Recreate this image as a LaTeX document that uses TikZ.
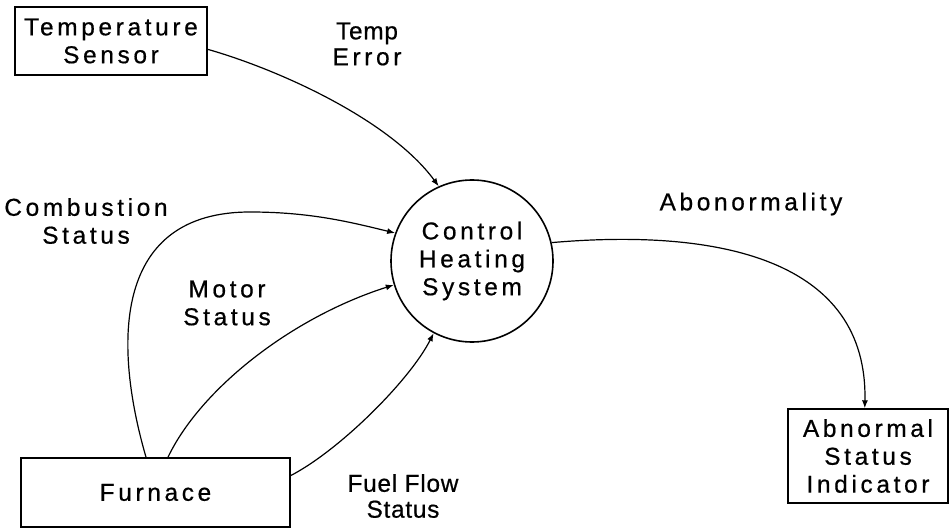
\documentclass[tikz,border=0pt]{standalone}
\usepackage{fontspec}
\setmainfont{Liberation Sans}
\newfontfamily\widefont[LetterSpace=15,FakeBold=0.6]{Liberation Sans}
\newfontfamily\narrowfont[LetterSpace=3,FakeBold=0.6]{Liberation Sans}
\usetikzlibrary{arrows.meta,calc}

\tikzset{
  labelfont/.style={font=\widefont\fontsize{24.5}{28}\selectfont},
  entity/.style={draw, line width=1.4bp, inner sep=0pt, align=center, labelfont},
  process/.style={draw, circle, line width=1.6bp, inner sep=0pt,
    minimum size=162bp, align=center, labelfont},
  flowlabel/.style={inner sep=0pt, align=center, labelfont},
  flowlabeltight/.style={inner sep=0pt, align=center,
    font=\narrowfont\fontsize{24.5}{26}\selectfont},
  flow/.style={line width=1.2bp, -{Latex[length=8bp, width=6bp]}},
}

\begin{document}
\begin{tikzpicture}[x=1bp, y=-1bp]
  \useasboundingbox (0,0) rectangle (949,528);

  % external entities and the process
  \node[entity, minimum width=192bp, minimum height=68bp] (sensor) at (111,41) {Temperature\\Sensor};
  \node[entity, minimum width=269bp, minimum height=69bp] (furnace) at (155.5,492.5) {Furnace};
  \node[entity, minimum width=160bp, minimum height=94bp] (indicator) at (868,456) {Abnormal\\Status\\Indicator};
  \node[process] (ctrl) at (472,261) {Control\\Heating\\System};

  % flow labels
  \node[flowlabeltight] (ltemp) at (367,44) {Temp\\{\widefont Error}};
  \node[flowlabel] (lcomb) at (86,221) {Combustion\\Status};
  \node[flowlabel] (lmotor) at (227,303) {Motor\\Status};
  \node[flowlabeltight] (lfuel) at (403,496) {Fuel Flow\\Status};
  \node[flowlabel] (labn) at (751,204) {Abonormality};

  % connector end points on the boxes
  \coordinate (sensorout) at ($(sensor.south east)!0.38!(sensor.north east)$);
  \coordinate (combout) at ($(furnace.north west)!0.465!(furnace.north east)$);
  \coordinate (motorout) at ($(furnace.north west)!0.546!(furnace.north east)$);
  \coordinate (fuelout) at ($(furnace.north east)!0.26!(furnace.south east)$);
  \coordinate (indin) at ($(indicator.north west)!0.48!(indicator.north east)$);

  % data flows
  \draw[flow] (sensorout) .. controls (280,70) and (390,120) .. (ctrl.114);
  \draw[flow] (combout) .. controls (112,340) and (115,212) .. (250,212)
                        .. controls (310,212) and (350,222) .. (ctrl.160);
  \draw[flow] (motorout) .. controls (200,390) and (290,318) .. (ctrl.197);
  \draw[flow] (fuelout) .. controls (340,450) and (410,380) .. (ctrl.242);
  \draw[flow] (ctrl.13) .. controls (720,228) and (868,260) .. (indin);
\end{tikzpicture}
\end{document}
